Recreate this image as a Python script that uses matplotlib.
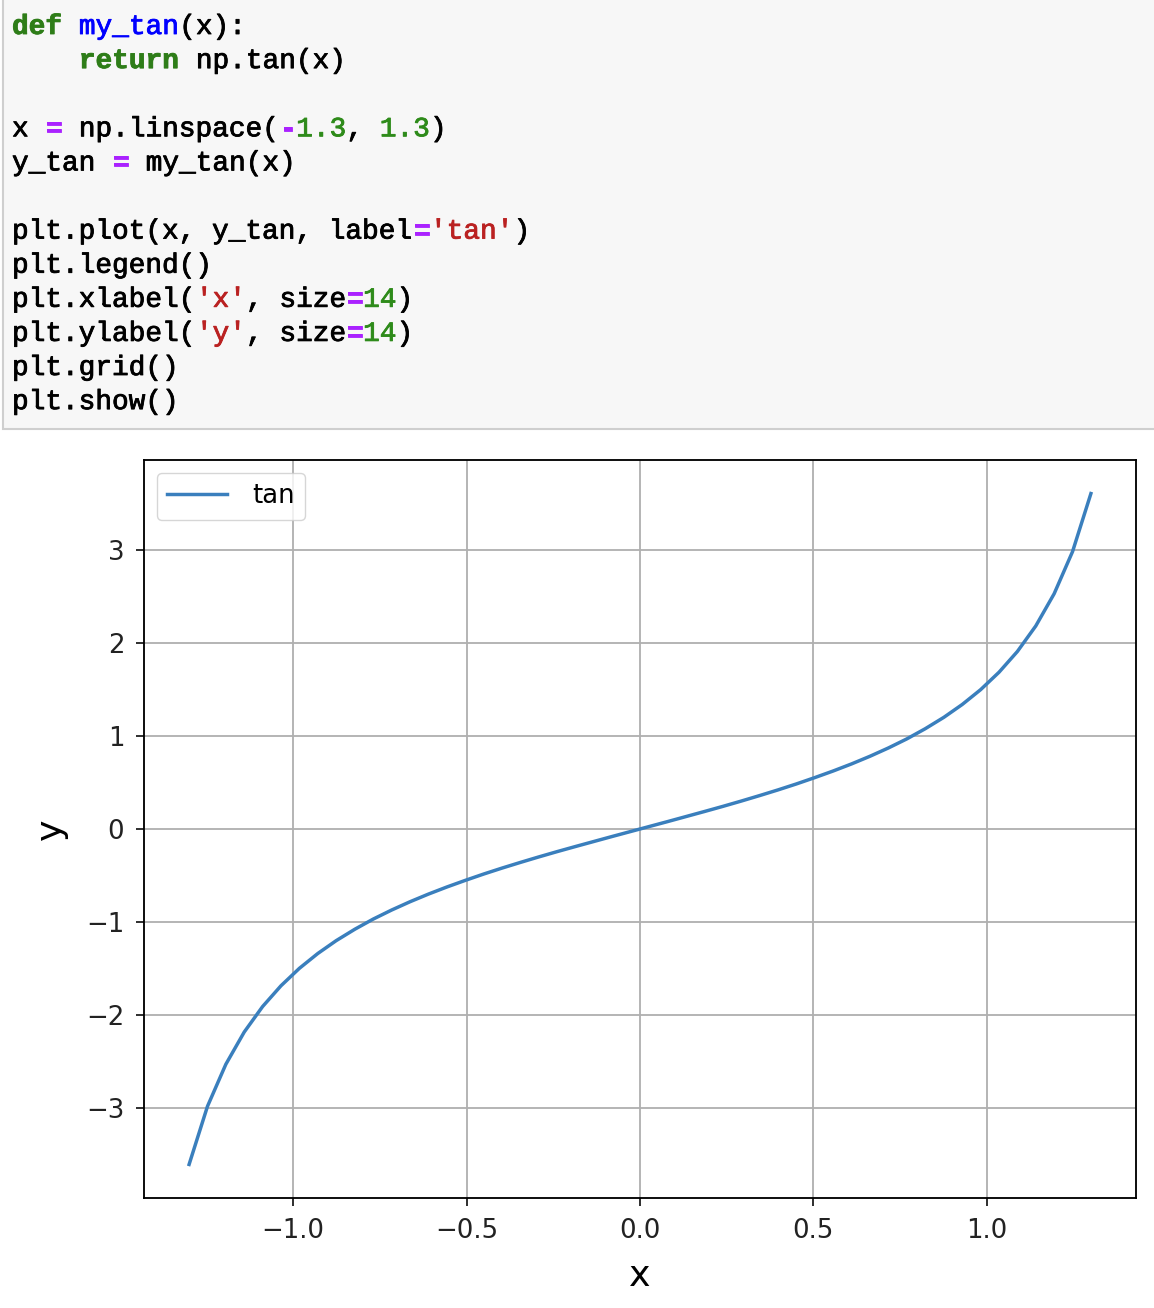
import matplotlib.pyplot as plt
import matplotlib.patheffects as pe
from matplotlib.patches import Rectangle

plt.rcParams['font.family'] = ['DejaVu Sans']

# values (50 points)
x_vals = [-1.300, -1.247, -1.194, -1.141, -1.088, -1.035, -0.982, -0.929, -0.876, -0.822,
          -0.769, -0.716, -0.663, -0.610, -0.557, -0.504, -0.451, -0.398, -0.345, -0.292,
          -0.239, -0.186, -0.133, -0.080, -0.027, 0.027, 0.080, 0.133, 0.186, 0.239,
          0.292, 0.345, 0.398, 0.451, 0.504, 0.557, 0.610, 0.663, 0.716, 0.769,
          0.822, 0.876, 0.929, 0.982, 1.035, 1.088, 1.141, 1.194, 1.247, 1.300]
y_tan = [-3.602, -2.978, -2.526, -2.180, -1.906, -1.683, -1.496, -1.337, -1.199, -1.076,
         -0.967, -0.870, -0.781, -0.699, -0.623, -0.552, -0.484, -0.420, -0.359, -0.300,
         -0.243, -0.188, -0.134, -0.080, -0.027, 0.027, 0.080, 0.134, 0.188, 0.243,
         0.300, 0.359, 0.420, 0.484, 0.552, 0.623, 0.699, 0.781, 0.870, 0.967,
         1.076, 1.199, 1.337, 1.496, 1.683, 1.906, 2.180, 2.526, 2.978, 3.602]
x_ticks = [-1.0, -0.5, 0.0, 0.5, 1.0]
y_ticks = [-3, -2, -1, 0, 1, 2, 3]

# code cell lines as (text, kind) tokens
KW, NM, OP, NUM, STR, TXT = 'kw', 'nm', 'op', 'num', 'str', 'txt'
code_lines = [
    [('def', KW), (' ', TXT), ('my_tan', NM), ('(x):', TXT)],
    [('    ', TXT), ('return', KW), (' np.tan(x)', TXT)],
    [],
    [('x ', TXT), ('=', OP), (' np.linspace(', TXT), ('-', OP), ('1.3', NUM),
     (', ', TXT), ('1.3', NUM), (')', TXT)],
    [('y_tan ', TXT), ('=', OP), (' my_tan(x)', TXT)],
    [],
    [('plt.plot(x, y_tan, label', TXT), ('=', OP), ("'tan'", STR), (')', TXT)],
    [('plt.legend()', TXT)],
    [('plt.xlabel(', TXT), ("'x'", STR), (', size', TXT), ('=', OP), ('14', NUM), (')', TXT)],
    [('plt.ylabel(', TXT), ("'y'", STR), (', size', TXT), ('=', OP), ('14', NUM), (')', TXT)],
    [('plt.grid()', TXT)],
    [('plt.show()', TXT)],
]
styles = {
    KW: dict(color='#2e7d18', fontweight='bold'),
    NM: dict(color='#0000ff'),
    OP: dict(color='#aa22ff', fontweight='bold'),
    NUM: dict(color='#2e8b1a'),
    STR: dict(color='#ba2121'),
    TXT: dict(color='#000000'),
}

W, H = 1154, 1308
fig = plt.figure(figsize=(W / 100, H / 100), dpi=100)
fig.patch.set_facecolor('white')

# code cell background
fig.patches.append(Rectangle((3 / W, 1 - 429 / H), 1.2, 429 / H + 0.01,
                             transform=fig.transFigure, facecolor='#f7f7f7',
                             edgecolor='#cfcfcf', linewidth=1.5))

char_w = 16.72
for i, tokens in enumerate(code_lines):
    ypix = 27 + i * 34.1
    col = 0
    for txt, kind in tokens:
        st = styles[kind]
        fig.text((12 + col * char_w) / W, 1 - ypix / H, txt,
                 family='Liberation Mono', fontsize=20, va='center', ha='left',
                 path_effects=[pe.withStroke(linewidth=0.6, foreground=st['color'])],
                 **st)
        col += len(txt)

s = 2.3 * 0.72  # line scale vs default sizes
t = 2.6 * 0.72  # text scale
ax = fig.add_axes([144 / W, 1 - 1198 / H, (1136 - 144) / W, (1198 - 460) / H])
ax.plot(x_vals, y_tan, label='tan', color='#3a7fbd', lw=1.5 * s)
ax.set_xticks(x_ticks)
ax.set_yticks(y_ticks)
ax.grid(color='#b0b0b0', lw=0.8 * s)
for sp in ax.spines.values():
    sp.set_linewidth(0.8 * s)
ax.tick_params(labelsize=10 * t, length=3.5 * s, width=0.8 * s, pad=4.5 * t,
               colors='#222222')
ax.set_xlabel('x', size=14 * t, labelpad=6 * t)
ax.set_ylabel('y', size=14 * t, labelpad=7 * t)
ax.legend(loc='upper left', fontsize=10 * t, handlelength=2.3, handletextpad=0.95)

fig.savefig('out.png', dpi=100)
